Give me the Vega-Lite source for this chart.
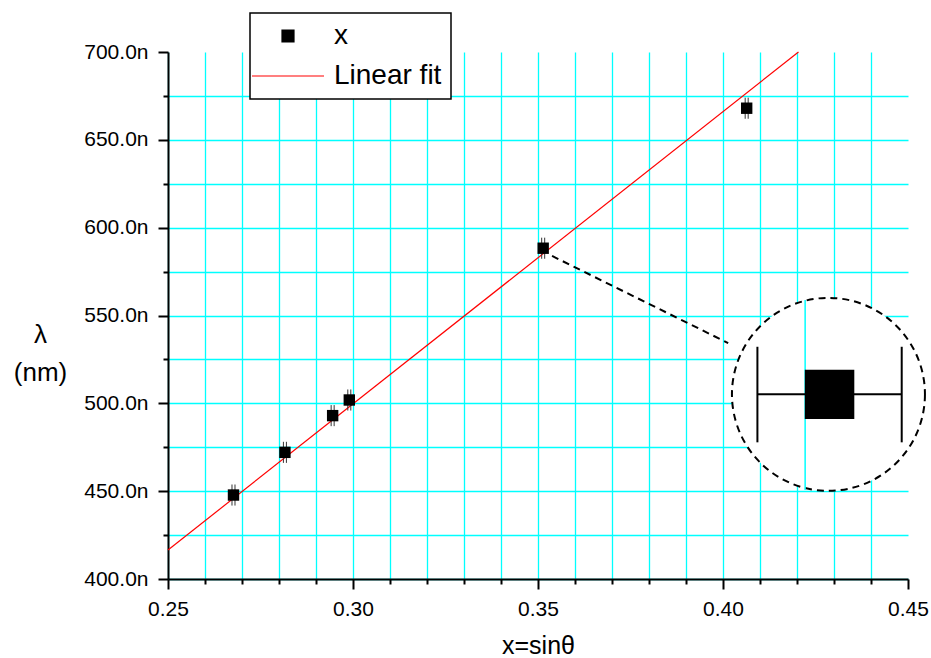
{
  "$schema": "https://vega.github.io/schema/vega-lite/v6.json",
  "width": 740,
  "height": 527,
  "autosize": {"type": "none"},
  "padding": {"left": 168, "top": 52, "right": 23, "bottom": 79},
  "background": "white",
  "config": {
    "view": {"stroke": null},
    "font": "Liberation Sans",
    "axis": {
      "grid": true,
      "gridColor": "#00FFFF",
      "gridWidth": 1.3,
      "domainColor": "black",
      "domainWidth": 2,
      "tickColor": "black",
      "tickWidth": 2,
      "tickSize": 10,
      "labelFont": "Liberation Sans",
      "labelFontSize": 21,
      "labelColor": "black",
      "titleFont": "Liberation Sans",
      "titleFontSize": 26,
      "titleFontWeight": "normal",
      "titleColor": "black",
      "labelOverlap": false,
      "labelFlush": false,
      "labelBound": false
    }
  },
  "datasets": {
    "points": [
      {"x": 0.2677, "y": 447.8, "lo": 441.8, "hi": 453.8, "series": "x"},
      {"x": 0.2816, "y": 472.1, "lo": 466.1, "hi": 478.1, "series": "x"},
      {"x": 0.2945, "y": 493.0, "lo": 487.0, "hi": 499.0, "series": "x"},
      {"x": 0.2990, "y": 501.9, "lo": 495.9, "hi": 507.9, "series": "x"},
      {"x": 0.3514, "y": 588.3, "lo": 582.3, "hi": 594.3, "series": "x"},
      {"x": 0.4064, "y": 668.0, "lo": 662.0, "hi": 674.0, "series": "x"}
    ],
    "fit": [
      {"x": 0.25, "y": 416.5, "series": "Linear fit"},
      {"x": 0.4204, "y": 700.0, "series": "Linear fit"}
    ],
    "inset": [
      {"part": "connector", "x": 0.3538, "y": 583.9, "x2": 0.4014, "y2": 534.3},
      {"part": "circle", "x": 0.4285, "y": 505.1},
      {"part": "cyan", "x": 0.4222, "y": 450.7, "x2": 0.4222, "y2": 558.8},
      {"part": "bar", "x": 0.4093, "y": 505.1, "x2": 0.4483, "y2": 505.1},
      {"part": "cap", "x": 0.4093, "y": 477.8, "x2": 0.4093, "y2": 532.2},
      {"part": "cap", "x": 0.4483, "y": 477.8, "x2": 0.4483, "y2": 532.2},
      {"part": "box", "x": 0.4288, "y": 505.1}
    ]
  },
  "encoding": {
    "x": {
      "field": "x", "type": "quantitative",
      "scale": {"domain": [0.25, 0.45], "nice": false, "zero": false},
      "axis": {
        "values": [0.25,0.26,0.27,0.28,0.29,0.30,0.31,0.32,0.33,0.34,0.35,0.36,0.37,0.38,0.39,0.40,0.41,0.42,0.43,0.44,0.45],
        "labelExpr": "round(datum.value*100) % 5 == 0 ? format(datum.value, '.2f') : ''",
        "tickDash": {"condition": {"test": "round(datum.value*100) % 5 == 0", "value": []}, "value": [5, 20]},
        "labelPadding": 9,
        "gridOpacity": {"condition": {"test": "datum.value > 0.449", "value": 0}, "value": 1},
        "title": "x=sinθ",
        "titleFontSize": 25,
        "titleX": 370,
        "titleY": 54,
        "titleAlign": "center",
        "titleBaseline": "top"
      }
    },
    "y": {
      "field": "y", "type": "quantitative",
      "scale": {"domain": [400, 700], "nice": false, "zero": false},
      "axis": {
        "values": [400,425,450,475,500,525,550,575,600,625,650,675,700],
        "labelExpr": "datum.value % 50 == 0 ? format(datum.value, '.1f') + 'n' : ''",
        "tickDash": {"condition": {"test": "datum.value % 50 == 0", "value": []}, "value": [5, 20]},
        "labelPadding": 10,
        "gridOpacity": {"condition": {"test": "datum.value > 699", "value": 0}, "value": 1},
        "title": ["λ", "(nm)"],
        "titleAngle": 0,
        "titleX": -128,
        "titleY": 290,
        "titleAlign": "center",
        "titleBaseline": "alphabetic",
        "titleLineHeight": 38
      }
    }
  },
  "layer": [
    {
      "data": {"name": "fit"},
      "mark": {"type": "line", "strokeWidth": 1.2},
      "encoding": {
        "color": {
          "field": "series", "type": "nominal",
          "scale": {"domain": ["x", "Linear fit"], "range": ["black", "#FF0000"]},
          "legend": {
            "orient": "none",
            "legendX": 82,
            "legendY": -39,
            "title": null,
            "padding": 9,
            "rowPadding": 12,
            "labelFont": "Liberation Sans",
            "labelFontSize": 28,
            "labelColor": "black",
            "labelOffset": 32,
            "labelExpr": "datum.label + '\u00a0'",
            "symbolOffset": 15,
            "symbolSize": 144,
            "symbolStrokeWidth": 1,
            "strokeColor": "black",
            "fillColor": "white",
            "encode": {
              "legend": {"update": {"strokeWidth": {"value": 1.5}}},
              "symbols": {
                "update": {
                  "shape": [{"test": "datum.value === 'x'", "value": "square"}, {"value": "M-6,0H6"}],
                  "fill": [{"test": "datum.value === 'x'", "value": "black"}, {"value": "transparent"}],
                  "stroke": [{"test": "datum.value === 'x'", "value": "transparent"}, {"value": "#FF0000"}],
                  "strokeWidth": {"value": 1.2},
                  "opacity": {"value": 1}
                }
              }
            }
          }
        }
      }
    },
    {
      "data": {"name": "points"},
      "mark": {"type": "rule", "color": "#333333", "strokeWidth": 1, "xOffset": -1.5},
      "encoding": {
        "y": {"field": "lo", "type": "quantitative"},
        "y2": {"field": "hi"}
      }
    },
    {
      "data": {"name": "points"},
      "mark": {"type": "rule", "color": "#333333", "strokeWidth": 1, "xOffset": 1.5},
      "encoding": {
        "y": {"field": "lo", "type": "quantitative"},
        "y2": {"field": "hi"}
      }
    },
    {
      "data": {"name": "points"},
      "mark": {"type": "square", "size": 130, "opacity": 1, "filled": true},
      "encoding": {
        "color": {"field": "series", "type": "nominal"}
      }
    },
    {
      "data": {"name": "inset"},
      "transform": [{"filter": "datum.part === 'connector'"}],
      "mark": {"type": "rule", "color": "black", "strokeWidth": 2, "strokeDash": [7, 5]},
      "encoding": {
        "x2": {"field": "x2"},
        "y2": {"field": "y2"}
      }
    },
    {
      "data": {"name": "inset"},
      "transform": [{"filter": "datum.part === 'circle'"}],
      "mark": {"type": "point", "shape": "circle", "size": 37250, "filled": false, "fill": "white", "fillOpacity": 1, "stroke": "black", "strokeWidth": 2, "strokeDash": [7, 5], "opacity": 1},
      "encoding": {}
    },
    {
      "data": {"name": "inset"},
      "transform": [{"filter": "datum.part === 'cyan'"}],
      "mark": {"type": "rule", "color": "#00FFFF", "strokeWidth": 1.5},
      "encoding": {
        "y2": {"field": "y2"}
      }
    },
    {
      "data": {"name": "inset"},
      "transform": [{"filter": "datum.part === 'bar' || datum.part === 'cap'"}],
      "mark": {"type": "rule", "color": "black", "strokeWidth": 2},
      "encoding": {
        "x2": {"field": "x2"},
        "y2": {"field": "y2"}
      }
    },
    {
      "data": {"name": "inset"},
      "transform": [{"filter": "datum.part === 'box'"}],
      "mark": {"type": "square", "size": 2450, "color": "black", "opacity": 1, "filled": true},
      "encoding": {}
    }
  ]
}
